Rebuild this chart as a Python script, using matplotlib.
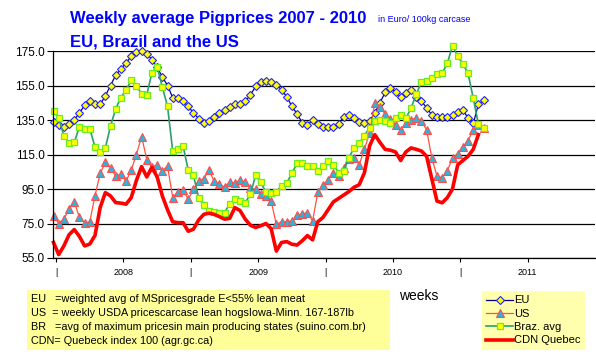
import matplotlib
matplotlib.use('Agg')
import matplotlib.pyplot as plt
import numpy as np
from matplotlib.patches import Rectangle

plt.rcParams['font.family'] = ['Liberation Sans', 'DejaVu Sans']

# week index, 0 = first week of 2008, one reading every two weeks
weeks = np.arange(-1, 167, 2)

eu = [134, 132, 131, 132.5, 135, 139, 143.5, 146, 144, 144, 149, 155, 161, 164.5, 168, 172, 174.5, 175,
      173.5, 170, 165.5, 160, 155, 148, 147.5, 145.8, 143, 139, 135.8, 133.3, 134.3, 136.5, 138.8, 140.8,
      142.8, 144.5, 144, 145.8, 149.5, 154.5, 157, 157.5, 157, 155.5, 152.5, 148.5, 143, 138.5, 133.5, 132,
      135, 132.5, 131, 131, 131, 132.5, 137, 138, 136, 134, 133, 134.5, 139, 145, 151, 153.5, 151, 148.5,
      150.5, 152.5, 148.6, 146, 142, 138, 137, 137, 137, 138, 139.5, 141, 136, 133, 144, 146.5]

us = [79.5, 75, 77.5, 83.5, 87.5, 78.5, 75.5, 76, 91, 104, 110.5, 107.3, 102.5, 103.5, 99.5, 106, 115, 125.4,
      112.1, 107.5, 109.2, 105.5, 108.3, 90, 93.5, 94.5, 89, 94.8, 99.5, 101, 106, 99.5, 98, 96, 99, 98.5,
      100, 99, 95.5, 94.8, 92, 91, 88, 74.5, 76, 76, 76.5, 79.8, 80.5, 81.3, 76.5, 93, 97.5, 100, 104.5,
      102.5, 107, 112.5, 113.1, 109.2, 118, 127.5, 145, 142.5, 138.5, 135.5, 132, 129, 133.3, 135.2, 136.1,
      134.2, 129.4, 113.1, 102.5, 101.5, 105.5, 113, 115.5, 119.5, 123, 129.4, 132, 130.4]

braz = [140, 136, 126, 121.5, 122, 131, 129.5, 130, 119.4, 116.5, 118.8, 131.5, 141.5, 148, 152.5, 158, 155,
        150, 149.6, 162.5, 166, 154, 143, 117, 117.9, 120, 106, 103, 90, 85.5, 82.5, 81.5, 81.3, 81.3, 86.5,
        89, 88, 87.1, 91.9, 103, 99, 93, 92.9, 93.5, 96.7, 98.5, 104, 110, 110.2, 108.3, 108.3, 105.4, 108.5,
        111.5, 109, 104.5, 105.4, 113, 119, 121.5, 126, 130.5, 134.5, 135, 134.5, 133.5, 136, 138, 136, 141.9,
        150, 156.8, 157.8, 159.5, 161.5, 162.1, 167.9, 178, 172, 167.5, 162, 147.7, 132.5, 130.5]

cdn = [64, 57, 62, 68.5, 71.5, 67.5, 62, 63.1, 68, 84.2, 92.9, 91, 87.1, 86.8, 86.2, 90, 100, 108, 102,
       107.5, 102, 91, 83, 76, 75.5, 75.5, 70.5, 71.7, 77, 80.3, 81, 80.3, 79, 77.5, 78, 84.2, 82.5, 77.5,
       74, 72.7, 73.7, 75, 72, 59, 64, 64.5, 63, 62.5, 65, 68, 65.5, 76, 78.5, 83, 87.5, 89.5, 91.5, 93.5,
       96, 97.5, 104.4, 120, 126.5, 122, 118, 117.5, 116.5, 111.5, 116.5, 118.8, 118, 117, 114, 101, 88,
       87, 90, 95, 109, 111.5, 114, 118, 126.5, np.nan]

tick_weeks = [0, 26, 52, 78, 104, 130, 156, 182]
tick_labels = ['|', '2008', '|', '2009', '|', '2010', '|', '2011']
y_ticks = [55, 75, 95, 115, 135, 155, 175]

notes = ['EU   =weighted avg of MSpricesgrade E<55% lean meat',
         'US  = weekly USDA pricescarcase lean hogsIowa-Minn. 167-187lb',
         'BR   =avg of maximum pricesin main producing states (suino.com.br)',
         'CDN= Quebeck index 100 (agr.gc.ca)']

W, H = 596, 352
fig = plt.figure(figsize=(W / 100, H / 100), dpi=100)
ax = fig.add_axes([53 / W, 94 / H, 542 / W, 207 / H])

ax.plot(weeks, eu, color='#000080', lw=0.9, marker='D', ms=4.5, mfc='#FFFF00', mec='#2222FF', mew=0.8,
        label='EU', clip_on=False)
ax.plot(weeks, us, color='#FF5040', lw=0.9, marker='^', ms=5.5, mfc='#2EB3D9', mec='#FF4D4D', mew=0.8,
        label='US', clip_on=False)
ax.plot(weeks, braz, color='#2E9E6E', lw=1.2, marker='s', ms=5, mfc='#FFFF00', mec='#66EE22', mew=0.9,
        label='Braz. avg', clip_on=False)
ax.plot(weeks, cdn, color='#FF0000', lw=2.6, label='CDN Quebec', clip_on=False)

ax.set_xlim(-1.2, 208)
ax.set_ylim(55, 175)
ax.set_yticks(y_ticks)
ax.set_yticklabels(['%.1f' % v for v in y_ticks], fontsize=8.5)
ax.set_xticks(tick_weeks)
ax.set_xticklabels(tick_labels, fontsize=6.5)
ax.tick_params(axis='x', length=3, pad=4, width=0.8)
ax.tick_params(axis='y', length=4, pad=2, width=0.8)
ax.yaxis.grid(True, color='black', lw=0.9)
ax.set_axisbelow(True)
for side in ['top', 'right']:
    ax.spines[side].set_visible(False)
for side in ['left', 'bottom']:
    ax.spines[side].set_linewidth(0.9)

fig.text(70 / W, 1 - 18 / H, 'Weekly average Pigprices 2007 - 2010', fontsize=12, fontweight='bold',
         color='#0000FF', va='center')
fig.text(70 / W, 1 - 42 / H, 'EU, Brazil and the US', fontsize=12, fontweight='bold',
         color='#0000FF', va='center')
fig.text(378 / W, 1 - 19 / H, 'in Euro/ 100kg carcase', fontsize=6.5, color='#0000FF', va='center')
fig.text(419 / W, 1 - 296 / H, 'weeks', fontsize=10, ha='center', va='center')

# notes box under the chart
fig.patches.append(Rectangle((27 / W, 1 - 350 / H), 363 / W, 60 / H, transform=fig.transFigure,
                             facecolor='#FFFF99', edgecolor='none'))
for i, line in enumerate(notes):
    fig.text(31 / W, 1 - (299 + 14 * i) / H, line, fontsize=7.8, va='center')

leg = fig.legend(loc='upper left', bbox_to_anchor=(482 / W, 1 - 291 / H), fontsize=8, numpoints=1,
                 frameon=True, fancybox=False, handlelength=2.4, handletextpad=0.1, labelspacing=0.3,
                 borderpad=0.4, borderaxespad=0)
leg.get_frame().set_facecolor('#FFFF99')
leg.get_frame().set_edgecolor('none')

fig.savefig('out.png', dpi=100)
